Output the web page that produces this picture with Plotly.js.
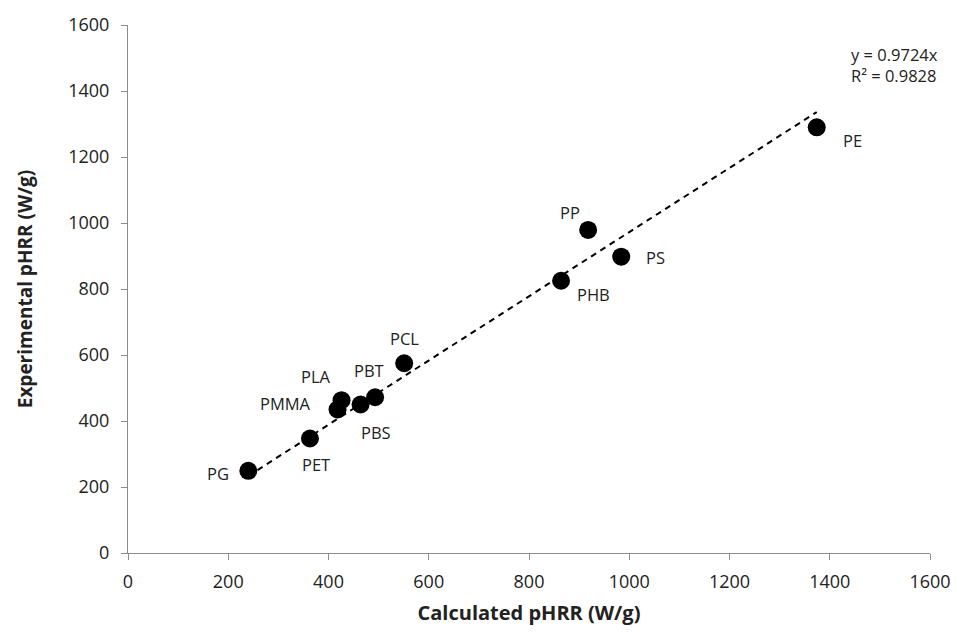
<!DOCTYPE html>
<html><head><meta charset="utf-8">
<script src="https://cdn.plot.ly/plotly-3.0.1.min.js"></script>
<style>body{margin:0;background:#fff}#c{width:956px;height:632px}</style>
</head><body><div id="c"></div>
<script>
const polymers = ["PG","PET","PMMA","PLA","PBS","PBT","PCL","PHB","PP","PS","PE"];
const calculated = [240,363,418,426,464,493,551,864,918,984,1374];
const experimental = [249,347,435,463,450,472,575,825,979,898,1290];
const slope = 0.9724;
const fitRange = [240,1374];
const eqText = "y = 0.9724x<br>R² = 0.9828";
// label offsets (pixels) per polymer
const labelOffsets = {
  PG:[-30,3], PET:[6,26], PMMA:[-52,-6], PLA:[-26,-24], PBS:[15,28], PBT:[-6,-27],
  PCL:[0,-25], PHB:[32,14], PP:[-18,-17], PS:[34,1], PE:[36,13]
};

const font = "'Open Sans', 'Liberation Sans', sans-serif";
const traces = [
  {x: fitRange, y: fitRange.map(v => slope*v), mode:"lines", type:"scatter",
   line:{color:"#000", width:2, dash:"6px,5px"}, hoverinfo:"skip"},
  {x: calculated, y: experimental, mode:"markers", type:"scatter",
   marker:{color:"#000", size:18}}
];
const annotations = polymers.map((p,i)=>({
  x: calculated[i], y: experimental[i], xref:"x", yref:"y",
  text: p, showarrow:true, arrowcolor:"rgba(0,0,0,0)", ax: labelOffsets[p][0], ay: labelOffsets[p][1],
  font:{family:font, size:16.5, color:"#222"}
}));
annotations.push({xref:"paper", yref:"paper", x:1.012, y:0.925, xanchor:"right", yanchor:"middle",
  text: eqText, showarrow:false, align:"left", font:{family:font, size:16.5, color:"#222"}});

const layout = {
  width:956, height:632, showlegend:false,
  margin:{l:128, r:26, t:25, b:79},
  paper_bgcolor:"#fff", plot_bgcolor:"#fff",
  font:{family:font, color:"#222"},
  xaxis:{range:[0,1600], dtick:200, showgrid:false, zeroline:false, showline:true,
    linecolor:"#8c8c8c", linewidth:1, ticks:"outside", ticklen:6, tickcolor:"#8c8c8c",
    ticklabelstandoff:6,
    tickfont:{size:18, family:font, color:"#222"},
    title:{text:"<b>Calculated pHRR (W/g)</b>", font:{size:20, family:font, color:"#222"}, standoff:14}},
  yaxis:{range:[0,1600], dtick:200, showgrid:false, zeroline:false, showline:true,
    linecolor:"#8c8c8c", linewidth:1, ticks:"outside", ticklen:6, tickcolor:"#8c8c8c",
    ticklabelstandoff:8,
    tickfont:{size:18, family:font, color:"#222"},
    title:{text:"<b>Experimental pHRR (W/g)</b>", font:{size:19, family:font, color:"#222"}, standoff:30}},
  annotations: annotations
};
Plotly.newPlot("c", traces, layout, {staticPlot:true});
</script></body></html>
